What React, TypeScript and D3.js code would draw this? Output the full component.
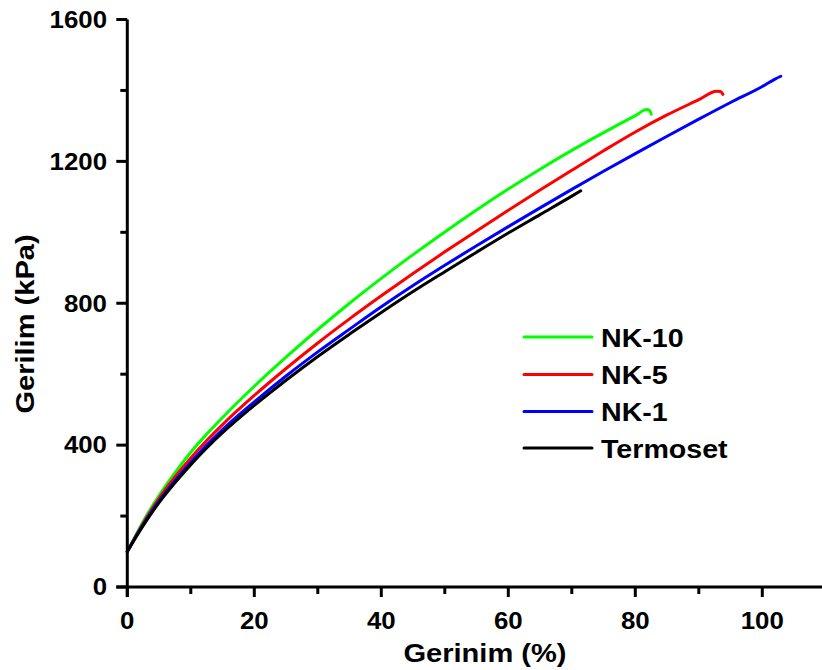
import React from "react";
import * as d3 from "d3";

const seriesNames = ["NK-10", "NK-5", "NK-1", "Termoset"];
const seriesColors = ["#00ff00", "#ff0000", "#0000ff", "#000000"];

const nk10: [number, number][] = [
  [0, 100], [2.5, 185], [5, 258], [7.5, 322], [10, 380], [12.5, 431], [15, 478], [20, 566],
  [25, 648], [30, 726], [35, 800], [40, 870], [45, 937], [50, 1001], [55, 1063], [60, 1122],
  [65, 1178], [70, 1231], [75, 1281], [80, 1329], [81.8, 1346], [82.3, 1343], [82.5, 1333],
];
const nk5: [number, number][] = [
  [0, 100], [2.5, 180], [5, 250], [7.5, 310], [10, 364], [12.5, 413], [15, 458], [20, 540],
  [25, 616], [30, 688], [35, 756], [40, 821], [45, 884], [50, 945], [55, 1004], [60, 1062],
  [65, 1119], [70, 1175], [75, 1230], [80, 1283], [85, 1331], [90, 1374], [92.8, 1398],
  [93.4, 1397], [93.8, 1389],
];
const nk1: [number, number][] = [
  [0, 100], [2.5, 176], [5, 243], [7.5, 300], [10, 352], [12.5, 400], [15, 444], [20, 522],
  [25, 595], [30, 663], [35, 727], [40, 790], [45, 850], [50, 907], [55, 962], [60, 1016],
  [65, 1069], [70, 1121], [75, 1172], [80, 1222], [85, 1271], [90, 1319], [95, 1366],
  [100, 1411], [102, 1432], [102.9, 1440],
];
const termoset: [number, number][] = [
  [0, 100], [2.5, 173], [5, 238], [7.5, 294], [10, 345], [12.5, 392], [15, 435], [20, 512],
  [25, 583], [30, 650], [35, 713], [40, 774], [45, 833], [50, 889], [55, 944], [60, 998],
  [65, 1050], [70, 1102], [71.4, 1117],
];
const allSeries = [nk10, nk5, nk1, termoset];

const xTicks = [0, 20, 40, 60, 80, 100];
const xMinorTicks = [10, 30, 50, 70, 90, 110];
const yTicks = [0, 400, 800, 1200, 1600];
const yMinorTicks = [200, 600, 1000, 1400];

const xTitle = "Gerinim (%)";
const yTitle = "Gerilim (kPa)";

const FONT = "'Liberation Sans', Arial, sans-serif";

export default function App() {
  const x = d3.scaleLinear().domain([0, 110]).range([127.3, 825.8]);
  const y = d3.scaleLinear().domain([0, 1600]).range([587, 19.5]);
  const line = d3
    .line<[number, number]>()
    .x((d) => x(d[0]))
    .y((d) => y(d[1]))
    .curve(d3.curveMonotoneX);

  const axisW = 3;
  const legendX0 = 524;
  const legendX1 = 592;
  const legendY = [337, 374.5, 411.5, 448];

  return (
    <svg
      width={822}
      height={670}
      style={{ position: "absolute", left: 0, top: 0, background: "#fff" }}
      fontFamily={FONT}
      fontWeight="bold"
    >
      <rect x={0} y={0} width={822} height={670} fill="#fff" />
      {allSeries.map((s, i) => (
        <path
          key={i}
          d={line(s) || ""}
          fill="none"
          stroke={seriesColors[i]}
          strokeWidth={3}
          strokeLinecap="round"
          strokeLinejoin="round"
        />
      ))}
      {/* y axis */}
      <line x1={x(0)} x2={x(0)} y1={y(1600)} y2={y(0) + 10} stroke="#000" strokeWidth={axisW} />
      {yTicks.map((t) => (
        <g key={"yt" + t}>
          <line x1={x(0) - 11} x2={x(0)} y1={y(t)} y2={y(t)} stroke="#000" strokeWidth={axisW} />
          <text
            transform={`translate(${107},${y(t) + 8.3}) scale(1.1,1)`}
            textAnchor="end"
            fontSize={23.5}
          >
            {t}
          </text>
        </g>
      ))}
      {yMinorTicks.map((t) => (
        <line key={"ym" + t} x1={x(0) - 7} x2={x(0)} y1={y(t)} y2={y(t)} stroke="#000" strokeWidth={axisW} />
      ))}
      {/* x axis */}
      <line x1={x(0) - 11} x2={822} y1={y(0)} y2={y(0)} stroke="#000" strokeWidth={axisW} />
      {xTicks.map((t) => (
        <g key={"xt" + t}>
          <line x1={x(t)} x2={x(t)} y1={y(0)} y2={y(0) + 10} stroke="#000" strokeWidth={axisW} />
          <text
            transform={`translate(${x(t)},${628.5}) scale(1.1,1)`}
            textAnchor="middle"
            fontSize={23.5}
          >
            {t}
          </text>
        </g>
      ))}
      {xMinorTicks.map((t) => (
        <line key={"xm" + t} x1={x(t)} x2={x(t)} y1={y(0)} y2={y(0) + 7} stroke="#000" strokeWidth={axisW} />
      ))}
      {/* titles */}
      <text
        transform={`translate(485,661.5) scale(1.14,1)`}
        textAnchor="middle"
        fontSize={25.5}
      >
        {xTitle}
      </text>
      <text
        transform={`translate(34,324) rotate(-90) scale(1.14,1)`}
        textAnchor="middle"
        fontSize={25.5}
      >
        {yTitle}
      </text>
      {/* legend */}
      {seriesNames.map((n, i) => (
        <g key={"lg" + n}>
          <line
            x1={legendX0}
            x2={legendX1}
            y1={legendY[i]}
            y2={legendY[i]}
            stroke={seriesColors[i]}
            strokeWidth={3}
            strokeLinecap="round"
          />
          <text
            transform={`translate(601,${legendY[i] + 9.8}) scale(1.1,1)`}
            fontSize={26}
          >
            {n}
          </text>
        </g>
      ))}
    </svg>
  );
}
